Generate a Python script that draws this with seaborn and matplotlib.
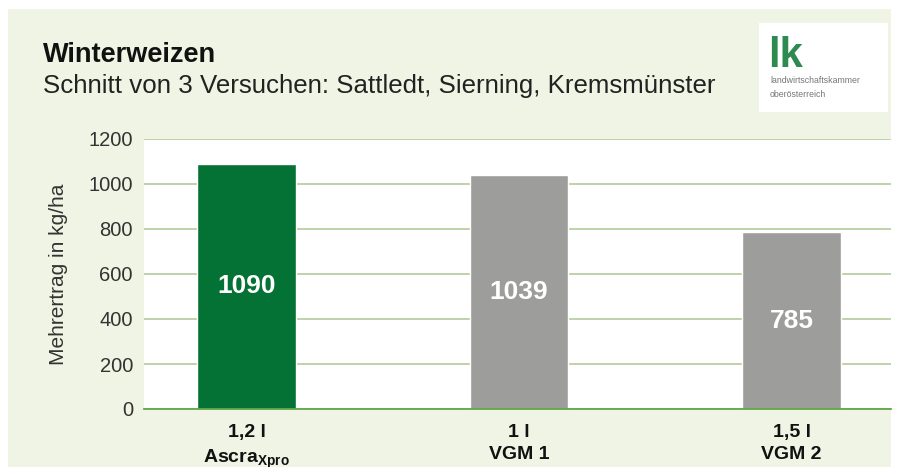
import matplotlib
matplotlib.use("Agg")
import matplotlib.pyplot as plt
import seaborn as sns
import pandas as pd
from matplotlib.patches import Rectangle

# data
categories = ["1,2 l\n$\\mathbf{Ascra_{Xpro}}$", "1 l\nVGM 1", "1,5 l\nVGM 2"]
values = [1090, 1039, 785]
bar_colors = ["#047235", "#9d9e9c", "#9d9e9c"]
yticks = [0, 200, 400, 600, 800, 1000, 1200]

sns.set_theme(style="white")
plt.rcParams["font.family"] = ["Liberation Sans", "DejaVu Sans"]
plt.rcParams["mathtext.fontset"] = "custom"
plt.rcParams["mathtext.rm"] = "Liberation Sans"
plt.rcParams["mathtext.bf"] = "Liberation Sans:bold"

W, H = 897, 467
fig = plt.figure(figsize=(W / 100, H / 100), dpi=100)
fig.patch.set_facecolor("white")
bg = "#f0f4e4"
fig.patches.append(Rectangle((8 / W, 0), (891 - 8) / W, 1 - 9 / H,
                             transform=fig.transFigure, facecolor=bg,
                             edgecolor="none", zorder=-10))

ax = fig.add_axes([144 / W, 1 - 409 / H, (891 - 144) / W, 270 / H])
ax.set_zorder(2)
ax.set_facecolor("white")

df = pd.DataFrame({"cat": categories, "val": values})
sns.barplot(data=df, x="cat", y="val", hue="cat", palette=bar_colors,
            legend=False, width=0.363, ax=ax, zorder=3, saturation=1)

ax.set_xlim(-0.376, 2.365)
ax.set_ylim(0, 1200)
ax.set_yticks(yticks)
ax.yaxis.grid(True, color="#b3cb9c", linewidth=1.2, zorder=0)
ax.set_axisbelow(True)
for s in ["top", "right", "left"]:
    ax.spines[s].set_visible(False)
ax.spines["bottom"].set_color("#5fa645")
ax.spines["bottom"].set_linewidth(1.3)
ax.spines["bottom"].set_zorder(4)

ax.tick_params(axis="y", length=0, pad=8, labelsize=14.5, labelcolor="#333333")
ax.tick_params(axis="x", length=0, pad=11, labelsize=14, labelcolor="#111111")
for t in ax.get_xticklabels():
    t.set_fontweight("bold")
    t.set_linespacing(1.4)
ax.set_xlabel("")
ax.set_ylabel("Mehrertrag in kg/ha", fontsize=15, color="#333333", labelpad=15)

for i, v in enumerate(values):
    ax.text(i, v / 2, f"{v}", ha="center", va="center", color="white",
            fontsize=19, fontweight="bold", zorder=5)

fig.text(43 / W, 1 - 62 / H, "Winterweizen", fontsize=19.5, fontweight="bold",
         color="#111111", ha="left", va="baseline")
fig.text(43 / W, 1 - 93 / H, "Schnitt von 3 Versuchen: Sattledt, Sierning, Kremsmünster",
         fontsize=18.6, color="#222222", ha="left", va="baseline")

# logo
fig.patches.append(Rectangle((759 / W, 1 - 112 / H), (888 - 759) / W, (112 - 23) / H,
                             transform=fig.transFigure, facecolor="white",
                             edgecolor="none", zorder=1))
fig.text(768 / W, 1 - 67 / H, "lk", fontsize=30, fontweight="bold", color="#2e8b4f",
         ha="left", va="baseline", zorder=2)
fig.text(770 / W, 1 - 83 / H, "landwirtschaftskammer", fontsize=6.3, color="#777777",
         ha="left", va="baseline", zorder=2)
fig.text(770 / W, 1 - 97 / H, "oberösterreich", fontsize=6.3, color="#777777",
         ha="left", va="baseline", zorder=2)

fig.savefig("out.png", dpi=100)
